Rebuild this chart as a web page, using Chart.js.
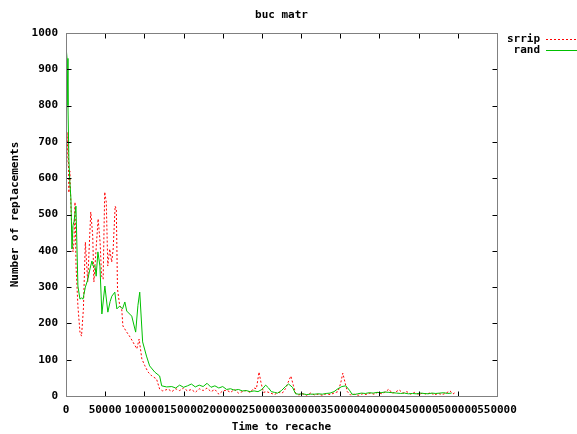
<!DOCTYPE html>
<html>
<head>
<meta charset="utf-8">
<script src="https://cdn.jsdelivr.net/npm/chart.js@4"></script>
<style>
html,body{margin:0;padding:0;background:#fff;}
canvas{display:block;}
</style>
</head>
<body>
<canvas id="c" width="577" height="434"></canvas>
<script>
const chartTitle = 'buc matr';
const xAxisTitle = 'Time to recache';
const yAxisTitle = 'Number of replacements';
const seriesNames = ['srrip', 'rand'];
const xTickValues = [0, 50000, 100000, 150000, 200000, 250000, 300000, 350000, 400000, 450000, 500000, 550000];
const xTickLabels = ['0', '50000', '100000', '150000', '200000', '250000', '300000', '350000', '400000', '450000', '500000', '550000'];
const yTickValues = [0, 100, 200, 300, 400, 500, 600, 700, 800, 900, 1000];
const yTickLabels = ['0', '100', '200', '300', '400', '500', '600', '700', '800', '900', '1000'];

const srripTime = [0, 1300, 2500, 3700, 4900, 6300, 7600, 8900, 10200, 11500, 12800, 15200, 17800, 19800, 22200, 24700, 27700, 31600, 34100, 35600, 39000, 41000, 43500, 45400, 47400, 49400, 51400, 53300, 55800, 58300, 60200, 62700, 64200, 65700, 68600, 71100, 72600, 77500, 81000, 85400, 90400, 93300, 96800, 100700, 104700, 109600, 115500, 119500, 123400, 130400,
  135000, 140000, 145000, 150000, 155000, 160000, 165000, 170000, 175000, 180000, 185000, 190000, 195000, 200000, 205000, 210000, 215000, 220000, 225000, 230000, 235000, 240000, 243000, 246300, 249000, 252000, 256000, 261000, 266000, 271000, 276000, 280000, 283500, 287000, 290000, 293000, 297000, 302000, 307000, 312000, 317000, 322000, 327000, 332000, 337000, 342000, 347000, 350500, 353200, 356000, 359000, 363000, 368000, 373000, 378000, 383000, 388000, 393000, 398000, 403000, 408000, 412000, 416000, 420000, 425000, 430000, 435000, 440000, 445000, 450000, 455000, 460000, 465000, 470000, 475000, 480000, 485000, 490000, 494000, 497000, 500000];
const srripValues = [600, 650, 727, 560, 620, 523, 452, 397, 424, 534, 358, 248, 176, 165, 240, 424, 314, 507, 441, 314, 424, 488, 424, 331, 322, 562, 534, 358, 405, 369, 405, 523, 515, 295, 248, 240, 193, 176, 165, 149, 130, 157, 102, 83, 66, 55, 47, 19, 14, 19,
  12, 20, 15, 22, 14, 18, 10, 20, 15, 22, 12, 18, 5, 14, 16, 10, 18, 8, 12, 15, 10, 22, 20, 66, 35, 10, 12, 8, 4, 10, 8, 20, 38, 55, 30, 8, 3, 6, 2, 8, 3, 5, 2, 6, 4, 8, 12, 35, 63, 38, 12, 3, 5, 2, 6, 4, 8, 5, 10, 6, 12, 19, 8, 10, 17, 8, 12, 5, 10, 4, 8, 5, 9, 3, 7, 4, 8, 14, 6, 10];

const randTime = [0, 1300, 2500, 3700, 4900, 6300, 7600, 8900, 10200, 12700, 15200, 17800, 19800, 21700, 24700, 27700, 30600, 33100, 34600, 37000, 38500, 40700, 43300, 45800, 49600, 53400, 56300, 58500, 62300, 64900, 68600, 72100, 75100, 77500, 83900, 88900, 91800, 94100, 97800, 102700, 106700, 113200, 119500, 122100, 128400,
  135000, 140000, 145000, 150000, 155000, 160000, 165000, 170000, 175000, 180000, 185000, 190000, 195000, 200000, 205000, 210000, 215000, 220000, 225000, 230000, 235000, 240000, 245000, 250000, 254800, 258500, 262000, 266000, 270000, 275000, 280000, 284000, 289000, 293000, 297000, 302000, 307000, 312000, 317000, 322000, 327000, 332000, 337000, 342000, 347000, 352000, 357000, 361700, 365000, 368000, 372000, 377000, 382000, 387000, 392000, 397000, 402000, 407000, 412000, 417000, 422000, 427000, 432000, 437000, 442000, 447000, 452000, 457000, 462000, 467000, 472000, 477000, 482000, 487000, 492000, 496000, 500000];
const randValues = [965, 930, 800, 650, 590, 543, 405, 470, 480, 523, 303, 267, 270, 267, 300, 320, 350, 372, 358, 358, 330, 397, 358, 226, 303, 231, 260, 275, 286, 240, 248, 240, 259, 234, 220, 176, 250, 286, 149, 110, 83, 66, 55, 28, 25,
  26, 22, 30, 24, 28, 33, 25, 30, 26, 35, 24, 28, 22, 26, 18, 20, 16, 18, 14, 15, 12, 14, 12, 18, 30, 22, 12, 10, 8, 15, 26, 33, 24, 6, 5, 6, 4, 5, 5, 6, 5, 7, 8, 12, 20, 26, 28, 16, 5, 4, 6, 8, 7, 9, 8, 10, 9, 11, 10, 9, 8, 7, 8, 6, 7, 6, 8, 7, 6, 8, 7, 8, 9, 7, 8];

const FONT = 'bold 11px "DejaVu Sans Mono", "Liberation Mono", monospace';

function pairs(xs, ys) { return xs.map((t, i) => ({ x: t, y: ys[i] })); }

const gnuplotFrame = {
  id: 'gnuplotFrame',
  afterDraw(chart) {
    const { ctx, chartArea: a, scales } = chart;
    const xs = scales.x, ys = scales.y;
    ctx.save();
    const L = Math.round(a.left) + 0.5, R = Math.round(a.right) + 0.5;
    const T = Math.round(a.top) + 0.5, B = Math.round(a.bottom) + 0.5;
    // ticks (inward, mirrored)
    ctx.strokeStyle = '#000';
    ctx.lineWidth = 1;
    ctx.setLineDash([]);
    ctx.beginPath();
    xTickValues.forEach(v => {
      const px = Math.round(xs.getPixelForValue(v)) + 0.5;
      ctx.moveTo(px, B); ctx.lineTo(px, B - 5);
      ctx.moveTo(px, T); ctx.lineTo(px, T + 5);
    });
    yTickValues.forEach(v => {
      const py = Math.round(ys.getPixelForValue(v)) + 0.5;
      ctx.moveTo(L, py); ctx.lineTo(L + 5, py);
      ctx.moveTo(R, py); ctx.lineTo(R - 5, py);
    });
    ctx.stroke();
    // border
    ctx.strokeStyle = '#808080';
    ctx.strokeRect(L, T, R - L, B - T);
    // titles
    ctx.fillStyle = '#000';
    ctx.font = FONT;
    ctx.textAlign = 'center';
    ctx.textBaseline = 'middle';
    const cx = (a.left + a.right) / 2;
    ctx.fillText(chartTitle, cx, 15);
    ctx.fillText(xAxisTitle, cx, 427);
    ctx.save();
    ctx.translate(15, (a.top + a.bottom) / 2);
    ctx.rotate(-Math.PI / 2);
    ctx.fillText(yAxisTitle, 0, 0);
    ctx.restore();
    // legend
    chart.data.datasets.forEach((ds, i) => {
      const ly = 39 + 11 * i;
      ctx.textAlign = 'right';
      ctx.fillStyle = '#000';
      ctx.fillText(ds.label, 540, ly);
      ctx.strokeStyle = ds.borderColor;
      ctx.setLineDash(ds.borderDash || []);
      ctx.beginPath();
      ctx.moveTo(546, ly + 0.5);
      ctx.lineTo(577, ly + 0.5);
      ctx.stroke();
    });
    ctx.restore();
  }
};

new Chart(document.getElementById('c'), {
  type: 'line',
  data: {
    datasets: [
      { label: seriesNames[0], data: pairs(srripTime, srripValues), borderColor: '#ff0000', borderWidth: 1, borderDash: [2, 2], pointRadius: 0, tension: 0, fill: false, order: 1 },
      { label: seriesNames[1], data: pairs(randTime, randValues), borderColor: '#00c000', borderWidth: 1, pointRadius: 0, tension: 0, fill: false, order: 0 }
    ]
  },
  options: {
    responsive: false,
    animation: false,
    devicePixelRatio: 1,
    layout: { padding: { top: 33, right: 80, bottom: 0, left: 0 } },
    plugins: { legend: { display: false }, title: { display: false }, tooltip: { enabled: false } },
    scales: {
      x: {
        type: 'linear', min: 0, max: 550000,
        afterFit(s) { s.height = 38; },
        afterBuildTicks(s) { s.ticks = xTickValues.map(v => ({ value: v })); },
        grid: { display: false, drawTicks: false },
        border: { display: false },
        ticks: { autoSkip: false, maxRotation: 0, minRotation: 0, padding: 8, color: '#000', font: { family: '"DejaVu Sans Mono"', size: 11, weight: 'bold' },
          callback: (v, i) => xTickLabels[i] }
      },
      y: {
        type: 'linear', min: 0, max: 1000,
        afterFit(s) { s.width = 66; },
        afterBuildTicks(s) { s.ticks = yTickValues.map(v => ({ value: v })); },
        grid: { display: false, drawTicks: false },
        border: { display: false },
        ticks: { autoSkip: false, padding: 8, color: '#000', font: { family: '"DejaVu Sans Mono"', size: 11, weight: 'bold' },
          callback: (v, i) => yTickLabels[i] }
      }
    }
  },
  plugins: [gnuplotFrame]
});
</script>
</body>
</html>
